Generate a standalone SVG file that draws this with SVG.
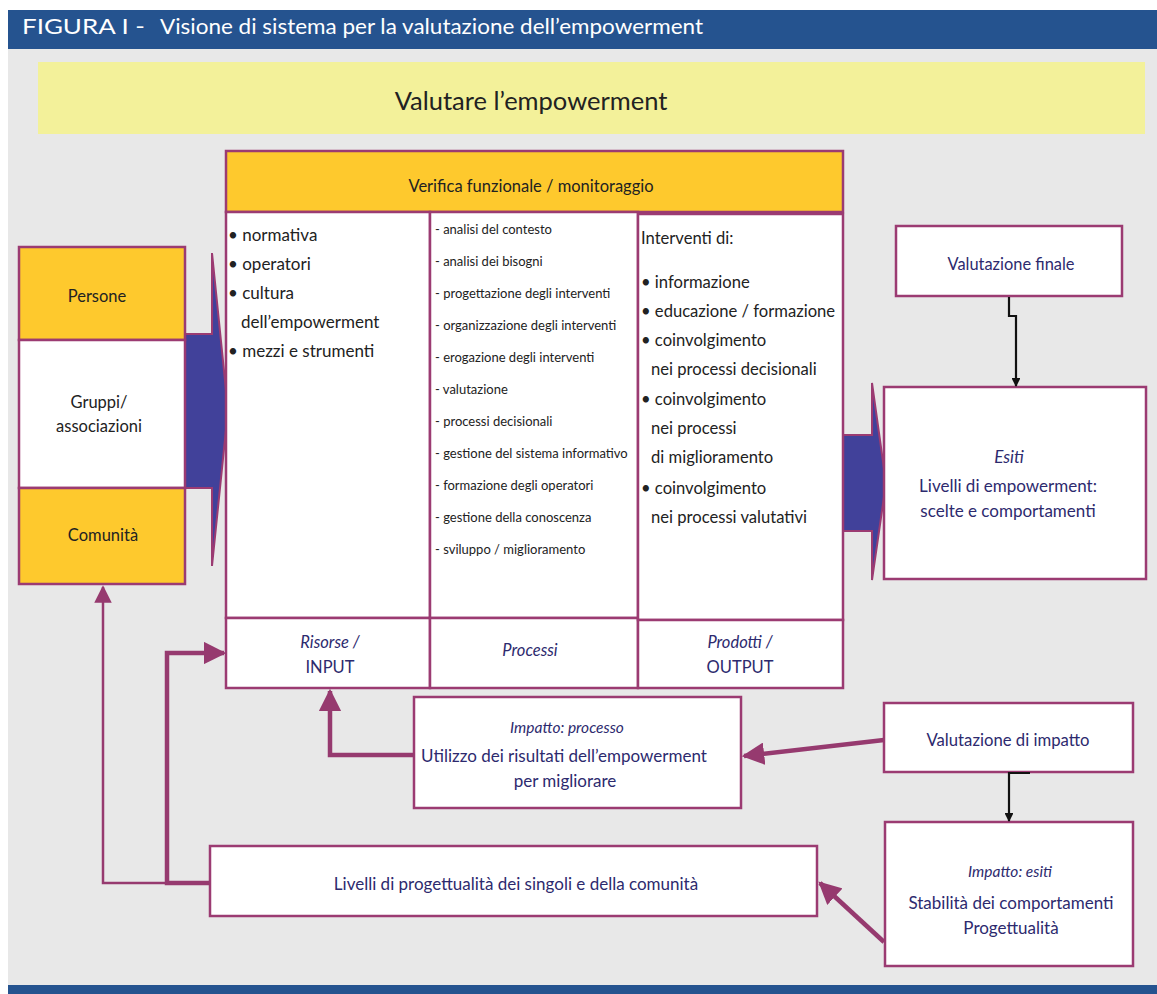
<svg xmlns="http://www.w3.org/2000/svg" width="1157" height="994" viewBox="0 0 1157 994">
  <defs>
    <style>
      text { font-family: Lato, "Open Sans", "Liberation Sans", sans-serif; fill: #2d2a6e; }
      .box { fill: #ffffff; stroke: #9b3b72; stroke-width: 2.5; }
      .org { fill: #fec92d; stroke: #9b3b72; stroke-width: 2.5; }
      .dark { fill: #222222; }
      .c { text-anchor: middle; }
      .it { font-style: italic; }
      .l1 { font-size: 17px; }
      .l3 { font-size: 16.6px; }
      .l2 { font-size: 13px; }
      .lb { font-size: 16.5px; }
      .tx { font-size: 17px; }
      .thick { fill: none; stroke: #963a6f; stroke-width: 4.5; }
      .thin { fill: none; stroke: #963a6f; stroke-width: 2.5; }
      .blk { fill: none; stroke: #111111; stroke-width: 2.2; }
    </style>
    <marker id="ah" viewBox="0 0 10 10" refX="9" refY="5" markerWidth="5" markerHeight="5" markerUnits="strokeWidth" orient="auto">
      <path d="M0,0 L10,5 L0,10 z" fill="#963a6f"/>
    </marker>
    <marker id="ahs" viewBox="0 0 10 10" refX="9" refY="5" markerWidth="8" markerHeight="7" markerUnits="strokeWidth" orient="auto">
      <path d="M0,0 L10,5 L0,10 z" fill="#963a6f"/>
    </marker>
    <marker id="ahk" viewBox="0 0 10 10" refX="9" refY="5" markerWidth="4" markerHeight="4" markerUnits="strokeWidth" orient="auto">
      <path d="M0,0 L10,5 L0,10 z" fill="#111111"/>
    </marker>
  </defs>

  <!-- page background -->
  <rect x="0" y="0" width="1157" height="994" fill="#ffffff"/>
  <rect x="8" y="48" width="1149" height="940" fill="#e8e8e8"/>
  <rect x="8" y="10" width="1149" height="39" fill="#25538f"/>
  <rect x="8" y="985" width="1149" height="9" fill="#25538f"/>
  <text x="22" y="34" font-size="21.5" style="fill:#ffffff"><tspan textLength="123" lengthAdjust="spacingAndGlyphs">FIGURA I -</tspan><tspan x="160" textLength="543" lengthAdjust="spacingAndGlyphs">Visione di sistema per la valutazione dell’empowerment</tspan></text>

  <!-- title banner -->
  <g id="banner">
    <rect x="38" y="62" width="1107" height="72" fill="#f3f19a"/>
    <text x="531" y="110" font-size="25.5" class="c dark">Valutare l’empowerment</text>
  </g>

  <!-- big blue arrows -->
  <g id="arrow-in">
    <path d="M185,334 L212,334 L212,253 L228,410 L212,566 L212,488 L185,488 Z" fill="#41419a" stroke="#9b3b72" stroke-width="2"/>
  </g>
  <g id="arrow-out">
    <path d="M843,435 L872,435 L872,383 L886,483 L872,580 L872,531 L843,531 Z" fill="#41419a" stroke="#9b3b72" stroke-width="2"/>
  </g>

  <!-- target groups -->
  <g id="persone">
    <rect class="org" x="19" y="247" width="166" height="93"/>
    <text x="97" y="302" class="c dark lb">Persone</text>
  </g>
  <g id="gruppi">
    <rect class="box" x="19" y="340" width="166" height="148"/>
    <text x="99" y="408" class="c dark lb">Gruppi/</text>
    <text x="99" y="432" class="c dark lb">associazioni</text>
  </g>
  <g id="comunita">
    <rect class="org" x="19" y="488" width="166" height="96"/>
    <text x="103" y="541" class="c dark lb">Comunità</text>
  </g>

  <!-- monitoring header -->
  <g id="verifica">
    <rect class="org" x="226" y="151" width="617" height="61"/>
    <text x="531" y="192" class="c dark" font-size="16.5">Verifica funzionale / monitoraggio</text>
  </g>

  <!-- resources column -->
  <g id="risorse">
    <rect class="box" x="226" y="212" width="204" height="406"/>
    <text x="228" y="241" class="dark l1">• normativa</text>
    <text x="228" y="270" class="dark l1">• operatori</text>
    <text x="228" y="299" class="dark l1">• cultura</text>
    <text x="241" y="328" class="dark l1">dell’empowerment</text>
    <text x="228" y="357" class="dark l1">• mezzi e strumenti</text>
    <rect class="box" x="226" y="618" width="204" height="70"/>
    <text x="330" y="648" class="c it lb">Risorse /</text>
    <text x="330" y="673" class="c lb">INPUT</text>
  </g>

  <!-- process column -->
  <g id="processi">
    <rect class="box" x="430" y="212" width="208" height="406"/>
    <text x="435" y="234" class="dark l2">- analisi del contesto</text>
    <text x="435" y="266" class="dark l2">- analisi dei bisogni</text>
    <text x="435" y="298" class="dark l2">- progettazione degli interventi</text>
    <text x="435" y="330" class="dark l2">- organizzazione degli interventi</text>
    <text x="435" y="362" class="dark l2">- erogazione degli interventi</text>
    <text x="435" y="394" class="dark l2">- valutazione</text>
    <text x="435" y="426" class="dark l2">- processi decisionali</text>
    <text x="435" y="458" class="dark l2">- gestione del sistema informativo</text>
    <text x="435" y="490" class="dark l2">- formazione degli operatori</text>
    <text x="435" y="522" class="dark l2">- gestione della conoscenza</text>
    <text x="435" y="554" class="dark l2">- sviluppo / miglioramento</text>
    <rect class="box" x="430" y="618" width="208" height="70"/>
    <text x="530" y="656" class="c it lb">Processi</text>
  </g>

  <!-- output column -->
  <g id="prodotti">
    <rect class="box" x="638" y="214" width="205" height="406"/>
    <text x="641" y="244" class="dark l3">Interventi di:</text>
    <text x="641" y="288" class="dark l3">• informazione</text>
    <text x="641" y="317" class="dark l3">• educazione / formazione</text>
    <text x="641" y="346" class="dark l3">• coinvolgimento</text>
    <text x="651" y="375" class="dark l3">nei processi decisionali</text>
    <text x="641" y="405" class="dark l3">• coinvolgimento</text>
    <text x="651" y="434" class="dark l3">nei processi</text>
    <text x="651" y="463" class="dark l3">di miglioramento</text>
    <text x="641" y="494" class="dark l3">• coinvolgimento</text>
    <text x="651" y="523" class="dark l3">nei processi valutativi</text>
    <rect class="box" x="638" y="620" width="205" height="68"/>
    <text x="740" y="648" class="c it lb">Prodotti /</text>
    <text x="740" y="673" class="c lb">OUTPUT</text>
  </g>

  <!-- evaluation boxes -->
  <g id="valutazione-finale">
    <rect class="box" x="896" y="226" width="226" height="70"/>
    <text x="1011" y="270" class="c" font-size="16.4">Valutazione finale</text>
  </g>
  <g id="esiti">
    <rect class="box" x="884" y="387" width="262" height="192"/>
    <text x="1009" y="463" class="c it tx">Esiti</text>
    <text x="1008" y="492" class="c tx">Livelli di empowerment:</text>
    <text x="1008" y="517" class="c tx">scelte e comportamenti</text>
  </g>
  <g id="impatto-processo">
    <rect class="box" x="414" y="697" width="327" height="111"/>
    <text x="567" y="733" class="c it" font-size="15.5">Impatto: processo</text>
    <text x="564" y="762" class="c tx">Utilizzo dei risultati dell’empowerment</text>
    <text x="565" y="787" class="c tx">per migliorare</text>
  </g>
  <g id="valutazione-impatto">
    <rect class="box" x="884" y="703" width="249" height="69"/>
    <text x="1008" y="746" class="c" font-size="16.7">Valutazione di impatto</text>
  </g>
  <g id="impatto-esiti">
    <rect class="box" x="885" y="822" width="248" height="144"/>
    <text x="1010" y="877" class="c it" font-size="15.5">Impatto: esiti</text>
    <text x="1011" y="909" class="c tx">Stabilità dei comportamenti</text>
    <text x="1011" y="934" class="c tx">Progettualità</text>
  </g>
  <g id="livelli">
    <rect class="box" x="210" y="846" width="607" height="70"/>
    <text x="516" y="890" class="c tx">Livelli di progettualità dei singoli e della comunità</text>
  </g>

  <!-- connectors -->
  <g id="connectors">
    <path class="blk" d="M1009,297 L1009,316 L1016,316 L1016,386" marker-end="url(#ahk)"/>
    <path class="blk" d="M1030,773 L1009,773 L1009,821" marker-end="url(#ahk)"/>
    <path class="thick" d="M884,740 L744,756" marker-end="url(#ah)"/>
    <path class="thick" d="M414,755 L330,755 L330,691" marker-end="url(#ah)"/>
    <path class="thick" d="M884,942 L820,883" marker-end="url(#ah)"/>
    <path class="thick" d="M210,883 L167,883 L167,653 L224,653" marker-end="url(#ah)"/>
    <path class="thin" d="M167,883 L103,883 L103,587" marker-end="url(#ahs)"/>
  </g>
</svg>
